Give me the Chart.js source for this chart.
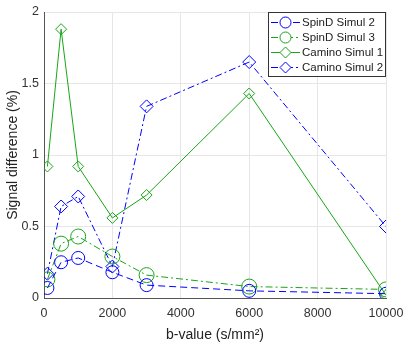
<!DOCTYPE html>
<html><head><meta charset="utf-8">
<script src="https://cdn.jsdelivr.net/npm/chart.js@4/dist/chart.umd.min.js"></script>
<style>html,body{margin:0;padding:0;background:#fff}#wrap{width:407px;height:347px}</style>
</head><body><div id="wrap"><canvas id="c" width="407" height="347"></canvas></div>
<script>
const bValues = [100, 500, 1000, 2000, 3000, 6000, 10000];
const spinD2 = [0.07, 0.25, 0.28, 0.18, 0.09, 0.05, 0.03];
const spinD3 = [0.13, 0.38, 0.43, 0.29, 0.16, 0.08, 0.06];
const camino1 = [0.92, 1.88, 0.92, 0.56, 0.72, 1.43, 0.02];
const camino2 = [0.17, 0.64, 0.71, 0.22, 1.34, 1.65, 0.50];
const seriesNames = ['SpinD Simul 2', 'SpinD Simul 3', 'Camino Simul 1', 'Camino Simul 2'];
const xTicks = [0, 2000, 4000, 6000, 8000, 10000];
const yTicks = [0, 0.5, 1, 1.5, 2];

const BLUE = 'rgb(0,0,255)';
const GREEN = 'rgb(25,165,25)';
const FONT = 'Liberation Sans, Arial, sans-serif';

function pts(ys){ return bValues.map((x,i)=>({x:x,y:ys[i]})); }

const datasets = [
  {label:seriesNames[0], data:pts(spinD2), borderColor:BLUE, borderDash:[7,4], pointStyle:'circle', pointRadius:6.5},
  {label:seriesNames[1], data:pts(spinD3), borderColor:GREEN, borderDash:[7,3,2,3], pointStyle:'circle', pointRadius:7.5},
  {label:seriesNames[2], data:pts(camino1), borderColor:GREEN, borderDash:[], pointStyle:'rectRot', pointRadius:5.5},
  {label:seriesNames[3], data:pts(camino2), borderColor:BLUE, borderDash:[7,3,2,3], pointStyle:'rectRot', pointRadius:6.5}
].map(d=>Object.assign(d,{backgroundColor:'rgba(0,0,0,0)', borderWidth:1, pointBorderWidth:1, pointBorderColor:d.borderColor, pointBackgroundColor:'rgba(0,0,0,0)', tension:0, fill:false}));

const legendPlugin = {
  id:'customLegend',
  afterDraw(chart){
    const ctx = chart.ctx;
    const x0=268, y0=12, w=117, h=64;
    ctx.save();
    ctx.fillStyle='#fff'; ctx.fillRect(x0,y0,w,h);
    ctx.strokeStyle='#333'; ctx.lineWidth=1; ctx.setLineDash([]);
    ctx.strokeRect(x0+0.5,y0+0.5,w,h);
    ctx.font='11.5px '+FONT; ctx.textBaseline='middle'; ctx.fillStyle='#222';
    chart.data.datasets.forEach((ds,i)=>{
      const y = y0+10.5+i*15;
      ctx.strokeStyle=ds.borderColor; ctx.lineWidth=1;
      ctx.setLineDash(ds.borderDash||[]);
      ctx.beginPath(); ctx.moveTo(x0+3,y); ctx.lineTo(x0+32,y); ctx.stroke();
      ctx.setLineDash([]);
      const cx=x0+17.5;
      ctx.beginPath();
      if(ds.pointStyle==='circle'){ ctx.arc(cx,y,5.5,0,Math.PI*2); }
      else { const r=5.5; ctx.moveTo(cx,y-r); ctx.lineTo(cx+r,y); ctx.lineTo(cx,y+r); ctx.lineTo(cx-r,y); ctx.closePath(); }
      ctx.fillStyle='#fff'; ctx.fill(); ctx.stroke();
      ctx.fillStyle='#222'; ctx.fillText(ds.label, x0+34, y+0.5);
    });
    ctx.restore();
  }
};

new Chart(document.getElementById('c'), {
  type:'line',
  data:{datasets:datasets},
  plugins:[legendPlugin],
  options:{
    responsive:false, animation:false, devicePixelRatio:1,
    layout:{padding:{top:12,right:21,left:0,bottom:0}},
    plugins:{legend:{display:false}, tooltip:{enabled:false}},
    scales:{
      x:{type:'linear', min:0, max:10000,
        afterBuildTicks(s){ s.ticks = xTicks.map(v=>({value:v})); },
        afterFit(s){ s.height=49; s.paddingLeft=0; s.paddingRight=0; },
        ticks:{color:'#333', font:{family:FONT,size:12.5}, padding:8, maxRotation:0, callback:v=>String(v)},
        grid:{color:'#e6e6e6', drawTicks:false, tickLength:0},
        border:{color:'#555', width:1},
        title:{display:true, text:'b-value (s/mm²)', color:'#222', font:{family:FONT,size:14}, padding:{top:4,bottom:3}}
      },
      y:{type:'linear', min:0, max:2,
        afterBuildTicks(s){ s.ticks = yTicks.map(v=>({value:v})); },
        afterFit(s){ s.width=44; s.paddingTop=0; s.paddingBottom=0; },
        ticks:{color:'#333', font:{family:FONT,size:12.5}, padding:5, callback:v=>String(v)},
        grid:{color:'#e6e6e6', drawTicks:false, tickLength:0},
        border:{color:'#555', width:1},
        title:{display:true, text:'Signal difference (%)', color:'#222', font:{family:FONT,size:14}, padding:{top:5,bottom:2}}
      }
    }
  }
});
</script></body></html>
